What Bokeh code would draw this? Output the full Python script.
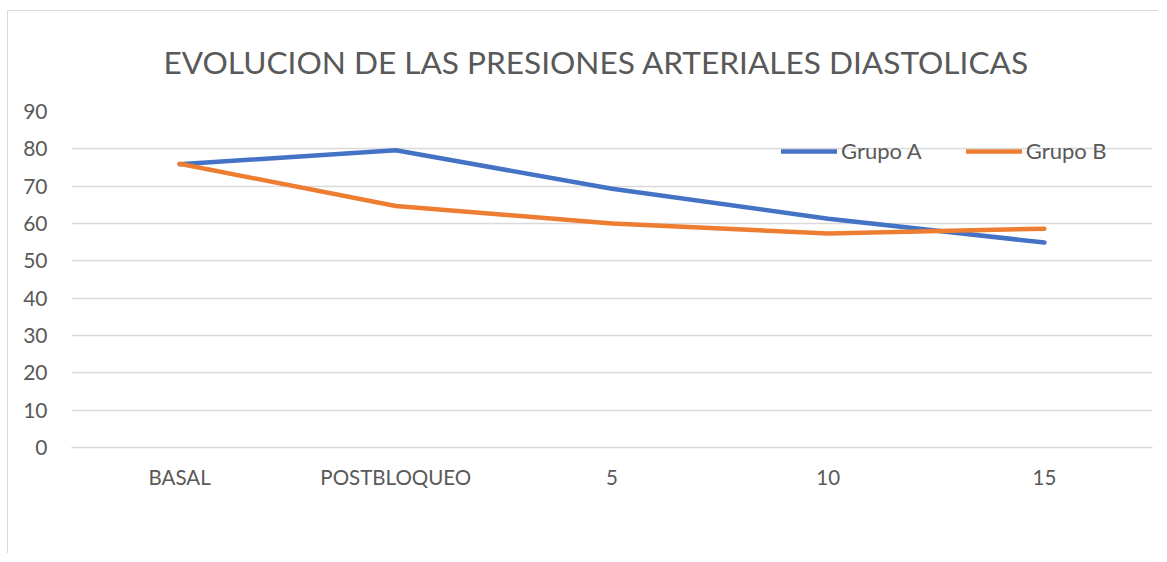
from bokeh.plotting import figure
from bokeh.models import Legend, LegendItem, FactorRange, Range1d, FixedTicker, Title
from bokeh.embed import file_html
from bokeh.resources import INLINE

title_text = "EVOLUCION DE LAS PRESIONES ARTERIALES DIASTOLICAS"
categories = ["BASAL", "POSTBLOQUEO", "5", "10", "15"]
grupo_a = [75.9, 79.6, 69.3, 61.3, 54.9]
grupo_b = [76.0, 64.7, 60.0, 57.3, 58.6]
y_ticks = [0, 10, 20, 30, 40, 50, 60, 70, 80, 90]

FONT = "Lato"
TXT = "#595959"

p = figure(width=1151, height=543, x_range=FactorRange(*categories, range_padding=0),
           y_range=Range1d(0, 90), output_backend="svg", toolbar_location=None,
           min_border_left=63, min_border_right=7, min_border_top=99, min_border_bottom=107,
           styles={"border-left": "1px solid #d9d9d9", "border-top": "1px solid #d9d9d9",
                   "margin-left": "7px", "margin-top": "10px"})
p.outline_line_color = None

title = Title(text=title_text, text_font=FONT, text_font_size="31.6px", text_font_style="normal",
              text_color=TXT, align="left", offset=92, standoff=60, vertical_align="middle")
p.add_layout(title, "above")

l1 = p.line(categories, grupo_a, line_color="#4472C4", line_width=4.5, line_cap="round", line_join="round")
l2 = p.line(categories, grupo_b, line_color="#ED7D31", line_width=4.5, line_cap="round", line_join="round")

p.yaxis.ticker = FixedTicker(ticks=y_ticks)
p.yaxis.axis_line_color = None
p.yaxis.major_tick_line_color = None
p.yaxis.minor_tick_line_color = None
p.yaxis.major_label_text_font = FONT
p.yaxis.major_label_text_font_size = "21px"
p.yaxis.major_label_text_color = TXT
p.yaxis.major_label_standoff = 18

p.xaxis.axis_line_color = "#d9d9d9"
p.xaxis.axis_line_width = 1.5
p.xaxis.major_tick_line_color = None
p.xaxis.minor_tick_line_color = None
p.xaxis.major_label_text_font = FONT
p.xaxis.major_label_text_font_size = "20.5px"
p.xaxis.major_label_text_color = TXT
p.xaxis.major_label_standoff = 11

p.xgrid.grid_line_color = None
p.ygrid.grid_line_color = "#d9d9d9"
p.ygrid.grid_line_width = 1.5

legend = Legend(items=[LegendItem(label="Grupo A", renderers=[l1]),
                       LegendItem(label="Grupo B", renderers=[l2])],
                orientation="horizontal", location=(710, 283),
                glyph_width=56, glyph_height=20, label_standoff=4, spacing=44,
                padding=0, margin=0, border_line_alpha=0, background_fill_alpha=0,
                label_text_font=FONT, label_text_font_size="22px", label_text_color=TXT)
p.add_layout(legend)

open("out.html", "w").write(file_html(p, INLINE))
